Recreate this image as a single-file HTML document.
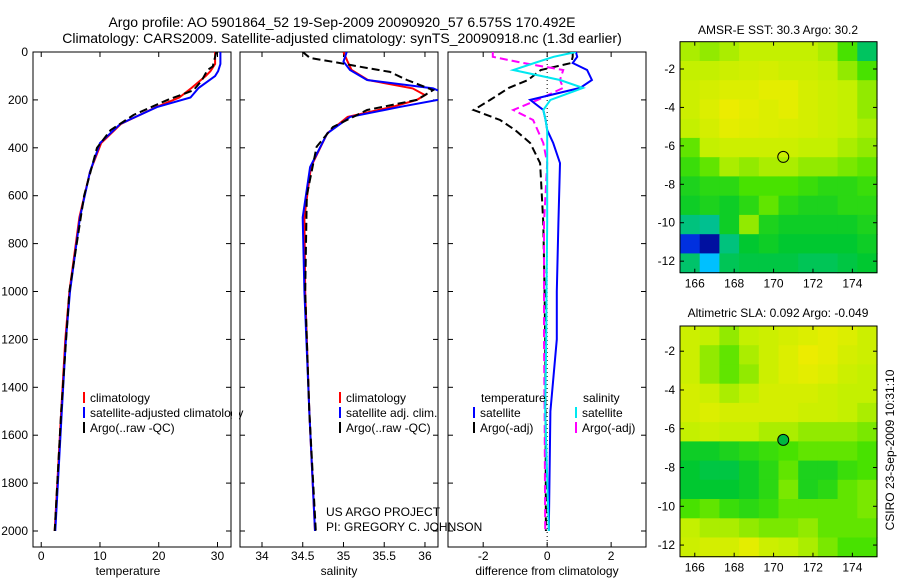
<!DOCTYPE html>
<html><head><meta charset="utf-8"><style>
body{margin:0;background:#fff;}
svg{display:block;font-family:"Liberation Sans",sans-serif;}
</style></head><body>
<svg id="fig" width="900" height="580" viewBox="0 0 900 580">
<text x="342" y="27" font-size="14" text-anchor="middle">Argo profile: AO 5901864_52 19-Sep-2009 20090920_57 6.575S 170.492E</text>
<text x="342" y="43" font-size="14" text-anchor="middle">Climatology: CARS2009. Satellite-adjusted climatology: synTS_20090918.nc (1.3d earlier)</text>
<text x="778" y="34" font-size="12" text-anchor="middle">AMSR-E SST: 30.3 Argo: 30.2</text>
<text x="778" y="317" font-size="12" text-anchor="middle">Altimetric SLA: 0.092 Argo: -0.049</text>
<text transform="translate(894,450) rotate(-90)" font-size="12" text-anchor="middle">CSIRO 23-Sep-2009 10:31:10</text>
<text x="128" y="575" font-size="12" text-anchor="middle">temperature</text>
<text x="339" y="575" font-size="12" text-anchor="middle">salinity</text>
<text x="547" y="575" font-size="12" text-anchor="middle">difference from climatology</text>
<text x="326" y="516" font-size="12">US ARGO PROJECT</text>
<text x="326" y="531" font-size="12">PI: GREGORY C. JOHNSON</text>
</svg>
<script>
// ---- profile data ----
const tempDepthClim = [0,50,80,100,150,190,230,300,380,500,690,1000,1200,1500,2000];
const tempClim      = [29.6,29.6,28.8,28.0,25.6,23.5,19.6,13.6,10.2,8.3,6.5,4.8,4.1,3.4,2.3];
const tempSat       = [30.5,30.5,30.1,29.6,26.8,25.4,19.7,13.5,10.0,8.3,6.6,4.9,4.2,3.5,2.4];
const tempDepthArgo = [0,60,75,120,160,200,263,326,400,600,1000,1500,2000];
const tempArgo      = [29.8,29.2,28.3,27.3,25.9,21.5,15.7,11.8,9.5,7.3,4.8,3.4,2.3];

const salDepthClim = [0,40,75,117,152,180,200,229,271,340,480,690,1000,1500,2000];
const salClim      = [35.0,35.05,35.1,35.3,35.85,36.0,35.9,35.6,35.05,34.8,34.6,34.52,34.53,34.58,34.65];
const salSat       = [35.04,35.0,35.08,35.29,36.1,36.3,36.16,35.7,35.08,34.8,34.59,34.5,34.52,34.58,34.65];
const salDepthArgo = [0,25,41,67,83,117,159,200,242,313,396,600,1000,1500,2000];
const salArgo      = [34.5,34.59,34.87,35.29,35.57,35.78,36.1,35.9,35.29,34.87,34.67,34.55,34.53,34.58,34.66];

const diffDepth   = [0,20,46,75,117,150,200,242,284,326,380,464,714,1000,1200,1500,2000];
const diffTempSat = [0.9,0.94,0.8,1.25,1.4,1.03,-0.53,-0.12,-0.05,0,0.19,0.4,0.35,0.3,0.3,0.1,0.05];
const diffSalSat  = [0.9,0.2,-0.4,-1.06,0.4,1.12,0.1,-0.12,-0.05,0,0,0,0,-0.02,-0.03,-0.06,0.05];
const diffTempArg = [0.8,0.8,0.75,-0.2,-0.6,-1.2,-1.78,-2.3,-1.47,-1.0,-0.53,-0.22,-0.12,-0.08,-0.06,-0.05,-0.04];
const diffSalArg  = [-1.7,-1.7,-0.75,0.5,0.4,0.5,-0.3,-1.06,-0.44,-0.3,-0.12,0,-0.1,-0.1,-0.1,-0.08,-0.06];

const depthTicks = [0,200,400,600,800,1000,1200,1400,1600,1800,2000];
const tempTicks = [0,10,20,30];
const salTicks = [34,34.5,35,35.5,36];
const salTickLabels = ["34","34.5","35","35.5","36"];
const diffTicks = [-2,0,2];

// ---- map data ----
const latTicks = [-2,-4,-6,-8,-10,-12];
const lonTicks = [166,168,170,172,174];
const sstGrid = [
[.68,.66,.68,.70,.70,.70,.70,.68,.60,.45],
[.70,.70,.72,.73,.74,.72,.72,.70,.66,.60],
[.72,.74,.76,.76,.78,.78,.74,.72,.70,.66],
[.72,.76,.80,.78,.76,.78,.74,.72,.70,.66],
[.70,.74,.78,.77,.76,.75,.74,.72,.70,.68],
[.62,.70,.72,.72,.72,.72,.70,.70,.68,.66],
[.58,.62,.68,.66,.68,.68,.66,.66,.64,.62],
[.54,.56,.56,.60,.60,.60,.58,.56,.56,.58],
[.52,.54,.52,.56,.62,.56,.54,.54,.56,.56],
[.42,.40,.52,.66,.54,.52,.52,.52,.52,.54],
[.15,.05,.42,.50,.52,.50,.50,.50,.50,.52],
[.44,.30,.46,.48,.48,.48,.46,.46,.48,.50]];
const slaGrid = [
[.72,.70,.66,.70,.72,.74,.76,.78,.76,.72],
[.72,.66,.62,.68,.72,.76,.80,.78,.74,.72],
[.72,.66,.62,.66,.72,.76,.78,.76,.72,.70],
[.74,.72,.68,.70,.74,.74,.74,.72,.70,.70],
[.74,.76,.74,.74,.74,.74,.72,.72,.70,.68],
[.70,.72,.70,.70,.68,.68,.66,.66,.66,.64],
[.52,.52,.54,.56,.58,.60,.62,.62,.62,.60],
[.50,.48,.48,.52,.56,.62,.54,.54,.58,.60],
[.50,.50,.50,.52,.56,.64,.54,.56,.62,.64],
[.60,.62,.58,.56,.58,.62,.62,.62,.62,.64],
[.70,.68,.68,.66,.64,.64,.66,.62,.62,.62],
[.72,.74,.74,.78,.72,.70,.68,.64,.60,.60]];
const floatLon = 170.492, floatLat = -6.575;

const NS="http://www.w3.org/2000/svg";
const svg=document.getElementById('fig');
function mk(tag,attrs,parent){const e=document.createElementNS(NS,tag);for(const k in attrs)e.setAttribute(k,attrs[k]);(parent||svg).appendChild(e);return e;}

const top0=52, bot0=547;
const yD = d => top0 + d*0.2395;

function panel(x0,x1,vmin,vmax,name){
  const g=mk('g',{});
  
  
  const cid='clip-'+name;
  const cp=mk('clipPath',{id:cid},g); mk('rect',{x:x0,y:top0,width:x1-x0,height:bot0-top0},cp);
  return {g,x0,x1,xs:v=>x0+(v-vmin)/(vmax-vmin)*(x1-x0),cid};
}
function frame(p,ticks,labels,leftLabels){
  const r=mk('rect',{x:p.x0,y:top0,width:p.x1-p.x0,height:bot0-top0,fill:'none',stroke:'#000','stroke-width':1},p.g);
  
  
  ticks.forEach((t,i)=>{const x=p.xs(t);
    mk('line',{x1:x,x2:x,y1:top0,y2:top0+5,stroke:'#000'},p.g);
    mk('line',{x1:x,x2:x,y1:bot0,y2:bot0-5,stroke:'#000'},p.g);
    const tx=mk('text',{x:x,y:560,'font-size':12,'text-anchor':'middle'},p.g);tx.textContent=labels[i];
    
    
  });
  depthTicks.forEach(d=>{const y=yD(d);
    mk('line',{x1:p.x0,x2:p.x0+5,y1:y,y2:y,stroke:'#000'},p.g);
    mk('line',{x1:p.x1,x2:p.x1-5,y1:y,y2:y,stroke:'#000'},p.g);
    if(leftLabels){const tx=mk('text',{x:p.x0-5,y:y+4,'font-size':12,'text-anchor':'end'},p.g);tx.textContent=d;
      
      }
  });
}
function line(p,depths,vals,color,dash,name,w){
  const pts=depths.map((d,i)=>p.xs(vals[i]).toFixed(1)+','+yD(d).toFixed(1)).join(' ');
  const l=mk('polyline',{points:pts,fill:'none',stroke:color,'stroke-width':w||2,'clip-path':'url(#'+p.cid+')'},p.g);
  if(dash) l.setAttribute('stroke-dasharray',dash);
  
  
}
function legend(p,x,y,color,text,name){
  mk('line',{x1:x,x2:x,y1:y-10,y2:y+1,stroke:color,'stroke-width':2},p.g);
  const t=mk('text',{x:x+6,y:y,'font-size':12},p.g); t.textContent=text;
  
  
}

// temperature panel
const pT=panel(33,231,-1.4,32.3,'temperature-panel');
frame(pT,tempTicks,tempTicks.map(String),true);
line(pT,tempDepthClim,tempClim,'#ff0000',null,'temp-climatology-line');
line(pT,tempDepthClim,tempSat,'#0000ff',null,'temp-satellite-line');
line(pT,tempDepthArgo,tempArgo,'#000000','8,4','temp-argo-line');
legend(pT,84,402,'#ff0000','climatology','temp-legend-climatology');
legend(pT,84,417,'#0000ff','satellite-adjusted climatology','temp-legend-satellite');
legend(pT,84,432,'#000000','Argo(..raw -QC)','temp-legend-argo');

// salinity panel
const pS=panel(240,438,33.73,36.16,'salinity-panel');
mk('rect',{x:232,y:390,width:7,height:50,fill:'#fff'});
frame(pS,salTicks,salTickLabels,false);
line(pS,salDepthClim,salClim,'#ff0000',null,'sal-climatology-line');
line(pS,salDepthClim,salSat,'#0000ff',null,'sal-satellite-line');
line(pS,salDepthArgo,salArgo,'#000000','8,4','sal-argo-line');
legend(pS,340,402,'#ff0000','climatology','sal-legend-climatology');
legend(pS,340,417,'#0000ff','satellite adj. clim.','sal-legend-satellite');
legend(pS,340,432,'#000000','Argo(..raw -QC)','sal-legend-argo');

// difference panel
const pD=panel(448,646,-3.1,3.09,'difference-panel');
frame(pD,diffTicks,diffTicks.map(String),false);
mk('line',{x1:pD.xs(0),x2:pD.xs(0),y1:top0,y2:bot0,stroke:'#000','stroke-dasharray':'1,3'},pD.g);
line(pD,diffDepth,diffTempArg,'#000000','8,4','diff-temp-argo-line');
line(pD,diffDepth,diffSalArg,'#ff00ff','8,4','diff-sal-argo-line');
line(pD,diffDepth,diffTempSat,'#0000ff',null,'diff-temp-satellite-line');
line(pD,diffDepth,diffSalSat,'#00e8f0',null,'diff-sal-satellite-line');
const th=mk('text',{x:481,y:402,'font-size':12},pD.g);th.textContent='temperature';


const sh=mk('text',{x:583,y:402,'font-size':12},pD.g);sh.textContent='salinity';


legend(pD,474,417,'#0000ff','satellite','diff-legend-temp-satellite');
legend(pD,474,432,'#000000','Argo(-adj)','diff-legend-temp-argo');
legend(pD,576,417,'#00e8f0','satellite','diff-legend-sal-satellite');
legend(pD,576,432,'#ff00ff','Argo(-adj)','diff-legend-sal-argo');

// colormap
const cstops=[[0,[0,0,128]],[0.2,[0,64,255]],[0.3,[0,192,255]],[0.4,[0,192,144]],[0.5,[0,200,48]],[0.6,[72,226,0]],[0.7,[196,240,0]],[0.8,[236,236,0]],[0.9,[250,192,0]],[1,[255,128,0]]];
function cmap(v){for(let i=1;i<cstops.length;i++){if(v<=cstops[i][0]){const a=cstops[i-1],b=cstops[i],t=(v-a[0])/(b[0]-a[0]);return 'rgb('+a[1].map((c,k)=>Math.round(c+(b[1][k]-c)*t)).join(',')+')';}}return 'rgb(255,128,0)';}

function map(grid,x0,x1,yTop,yBot,latTop,latBot,lonL,lonR,name,filled){
  const g=mk('g',{});
  
  
  const xs=lon=>x0+(lon-lonL)/(lonR-lonL)*(x1-x0);
  const ys=lat=>yTop+(latTop-lat)/(latTop-latBot)*(yBot-yTop);
  const nr=grid.length,nc=grid[0].length;
  const cw=(x1-x0)/nc,ch=(yBot-yTop)/nr;
  grid.forEach((row,r)=>row.forEach((v,c)=>{
    const cell=mk('rect',{x:(x0+c*cw).toFixed(1),y:(yTop+r*ch).toFixed(1),width:(cw+0.6).toFixed(1),height:(ch+0.6).toFixed(1),fill:cmap(v)},g);
    
    
  }));
  mk('rect',{x:x0,y:yTop,width:x1-x0,height:yBot-yTop,fill:'none',stroke:'#000'},g);
  latTicks.forEach(l=>{const y=ys(l);
    mk('line',{x1:x0,x2:x0+4,y1:y,y2:y,stroke:'#000'},g);mk('line',{x1:x1,x2:x1-4,y1:y,y2:y,stroke:'#000'},g);
    const t=mk('text',{x:x0-5,y:y+4,'font-size':12,'text-anchor':'end'},g);t.textContent=l;
    
    });
  lonTicks.forEach(l=>{const x=xs(l);
    mk('line',{x1:x,x2:x,y1:yTop,y2:yTop+4,stroke:'#000'},g);mk('line',{x1:x,x2:x,y1:yBot,y2:yBot-4,stroke:'#000'},g);
    const t=mk('text',{x:x,y:yBot+15,'font-size':12,'text-anchor':'middle'},g);t.textContent=l;
    
    });
  const c=mk('circle',{cx:xs(floatLon),cy:ys(floatLat),r:5.5,fill:filled?'#00b840':'none',stroke:'#000'},g);
  
  
}
map(sstGrid,680,877,41.7,272.7,-0.58,-12.6,165.25,175.25,'sst-map',false);
map(slaGrid,680,877,326,556.7,-0.7,-12.6,165.25,175.25,'sla-map',true);
</script>
</body></html>
